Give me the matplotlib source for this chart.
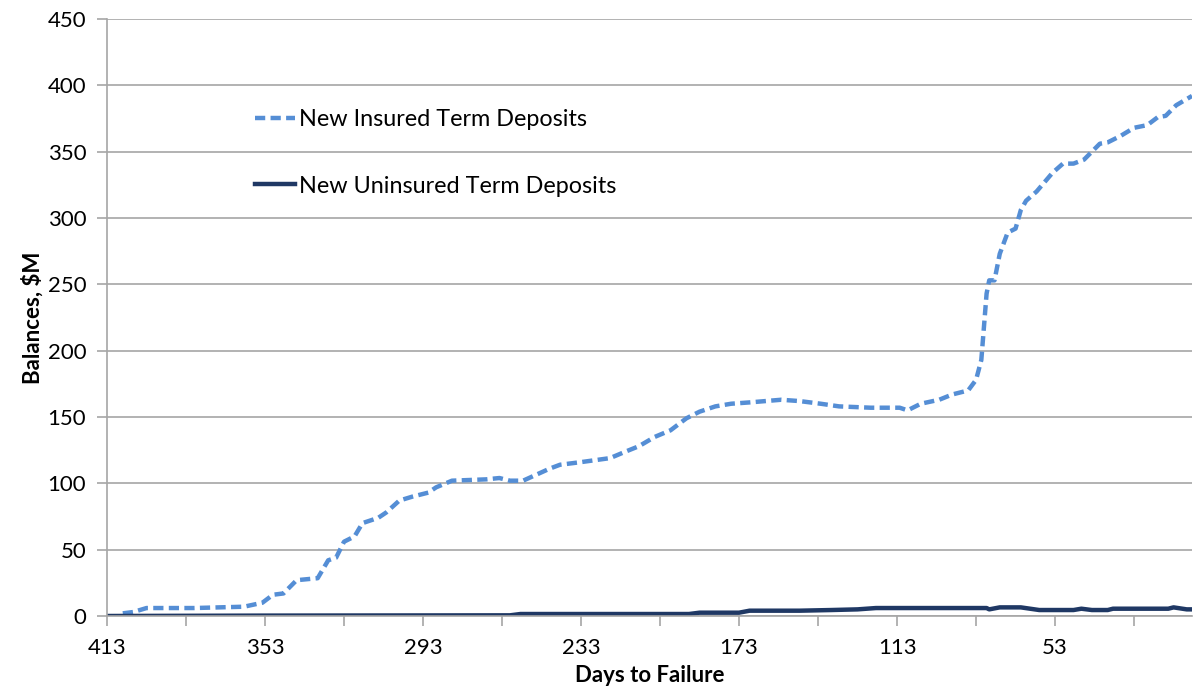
import matplotlib.pyplot as plt
import numpy as np

plt.rcParams['font.family'] = ['Lato', 'DejaVu Sans']

# days to failure and balances ($M)
ins_days = [407, 403, 398, 380, 361, 354, 350, 346, 341, 333, 329, 326, 323, 319,
            316, 310, 307, 302, 297, 291, 288, 282, 269, 264, 260, 255, 245, 241,
            233, 222, 216, 211, 205, 199, 193, 188, 182, 176, 169, 157, 150, 142,
            135, 123, 112, 109, 104, 97, 92, 86, 83, 81, 80, 79, 78, 76, 74, 71,
            68, 66, 64, 60, 57, 54, 50, 46, 42, 39, 36, 33, 28, 23, 18, 14, 11, 7, 1]
ins_vals = [2, 3, 6, 6, 7, 10, 16, 17, 27, 28.5, 42, 44, 56, 60,
            70, 74, 78, 87, 90, 93, 97, 102, 103, 104, 102, 102, 111, 114,
            116, 119, 124, 128, 135, 140, 149, 154, 158, 160, 161, 163, 162, 160,
            158, 157, 157, 155, 160, 163, 167, 170, 178, 193, 218, 243, 253, 253, 273, 289,
            292, 306, 313, 320, 327, 334, 341, 341, 344, 350, 356, 357, 362, 368, 370, 376, 377, 385, 392]

unins_days = [413, 353, 260, 256, 192, 188, 173, 169, 150, 138, 128, 121, 79, 78, 74,
              66, 59, 46, 43, 39, 33, 31, 10, 8, 3, 1]
unins_vals = [0, 0.3, 0.5, 1.5, 1.5, 2.5, 2.5, 4, 4, 4.5, 5, 6, 6, 5, 6.5,
              6.5, 4.5, 4.5, 5.5, 4.5, 4.5, 5.5, 5.5, 6.5, 5, 5]

fig = plt.figure(figsize=(11.93, 6.89), dpi=100)
ax = fig.add_axes([107/1193, 73/689, 1085/1193, 597/689])

ax.plot(ins_days, ins_vals, color='#558ed5', lw=3.2, linestyle=(0, (2.3, 1.2)),
        label='New Insured Term Deposits')
ax.plot(unins_days, unins_vals, color='#1f3864', lw=3.2,
        label='New Uninsured Term Deposits')

ax.set_xlim(413, 1)
ax.set_ylim(0, 450)

ax.set_xticks(np.arange(413, 0, -60))
ax.set_xticks(np.arange(383, 0, -60), minor=True)
ax.set_yticks(np.arange(0, 451, 50))

ax.tick_params(axis='both', which='both', color='#a6a6a6', length=7, width=1.2,
               labelsize=16, labelcolor='black')
ax.tick_params(axis='x', pad=9)
ax.tick_params(axis='y', pad=8)

ax.grid(axis='y', color='#a6a6a6', lw=1.2)
ax.set_axisbelow(True)
for s in ['top', 'right']:
    ax.spines[s].set_visible(False)
for s in ['left', 'bottom']:
    ax.spines[s].set_color('#a6a6a6')
    ax.spines[s].set_linewidth(1.2)

ax.set_xlabel('Days to Failure', fontsize=16, fontweight='bold', labelpad=5)
ax.set_ylabel('Balances, $M', fontsize=16, fontweight='bold', labelpad=3)

ax.legend(loc='upper left', bbox_to_anchor=(0.136, 0.849), frameon=False, fontsize=16.8,
          handlelength=1.75, handletextpad=0.15, labelspacing=1.95, borderpad=0,
          borderaxespad=0)

fig.savefig('out.png', dpi=100, facecolor='white')
